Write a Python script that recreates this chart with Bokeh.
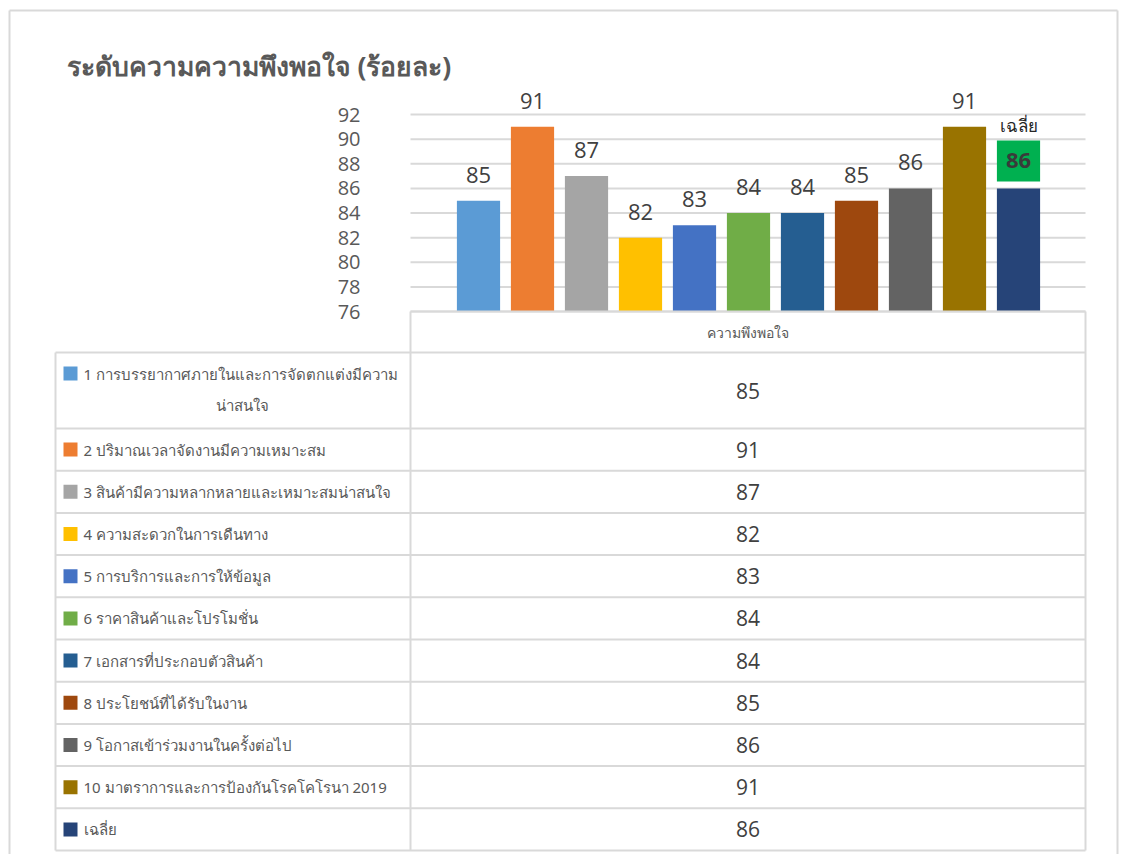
from bokeh.plotting import figure
from bokeh.models import Range1d, LinearAxis, FixedTicker, Grid
from bokeh.core.properties import value
from bokeh.embed import file_html
from bokeh.resources import INLINE

# ---------------- data ----------------
title_text = "ระดับความความพึงพอใจ (ร้อยละ)"
series_name = "ความพึงพอใจ"
avg_name = "เฉลี่ย"
categories = [
    "1 การบรรยากาศภายในและการจัดตกแต่งมีความน่าสนใจ",
    "2 ปริมาณเวลาจัดงานมีความเหมาะสม",
    "3 สินค้ามีความหลากหลายและเหมาะสมน่าสนใจ",
    "4 ความสะดวกในการเดืนทาง",
    "5 การบริการและการให้ข้อมูล",
    "6 ราคาสินค้าและโปรโมชั่น",
    "7 เอกสารที่ประกอบตัวสินค้า",
    "8 ประโยชน์ที่ได้รับในงาน",
    "9 โอกาสเข้าร่วมงานในครั้งต่อไป",
    "10 มาตราการและการป้องกันโรคโคโรนา 2019",
    "เฉลี่ย",
]
values = [85, 91, 87, 82, 83, 84, 84, 85, 86, 91, 86]
colors = ["#5B9BD5", "#ED7D31", "#A5A5A5", "#FFC000", "#4472C4", "#70AD47",
          "#255E91", "#9E480E", "#636363", "#997300", "#264478"]
y_ticks = [76, 78, 80, 82, 84, 86, 88, 90, 92]

# ---------------- geometry (styles) ----------------
W, H = 1120, 854
PX_X = 54.0          # pixels per category slot
PX_Y = 12.3125       # pixels per value unit
bar1_cx = 478.0      # px of first bar centre
base_px = 311.0      # px (from top) of the value axis minimum
plot_l_px, plot_r_px = 410.0, 1085.0

x_start = 1 - bar1_cx / PX_X
x_end = x_start + W / PX_X
y_end = y_ticks[0] + base_px / PX_Y
y_start = y_end - H / PX_Y
plot_l = x_start + plot_l_px / PX_X
plot_r = x_start + plot_r_px / PX_X

GRID = "#D9D9D9"
NUM_FONT_NAME = "Open Sans"
NUM_FONT = value(NUM_FONT_NAME)
THAI_FONT = value("Noto Sans")

p = figure(width=W, height=H, output_backend="svg", toolbar_location=None,
           x_range=Range1d(x_start, x_end), y_range=Range1d(y_start, y_end),
           x_axis_location=None, y_axis_location=None, min_border=0,
           outline_line_color=None, background_fill_color="white",
           border_fill_color="white")
for r in list(p.center):
    if isinstance(r, Grid):
        r.visible = False
p.extra_x_ranges = {"px": Range1d(0, W)}
p.extra_y_ranges = {"px": Range1d(H, 0)}
PX = dict(x_range_name="px", y_range_name="px")

# outer chart border (left, top, right)
p.segment(x0=[9, 9, 1117], y0=[10, 10, 10], x1=[9, 1117, 1117], y1=[H, 10, H],
          line_color=GRID, line_width=2, **PX)

# title
p.text(x=[66], y=[65], text=[title_text], text_font=THAI_FONT, text_font_size="26.5px",
       text_font_style="bold", text_color="#595959", text_baseline="middle",
       text_align="left", **PX)

# gridlines
p.segment(x0=plot_l, x1=plot_r, y0=y_ticks, y1=y_ticks, line_color=GRID, line_width=2)

# value axis
ax = LinearAxis(fixed_location=plot_l, ticker=FixedTicker(ticks=y_ticks),
                axis_line_color=None, major_tick_line_color=None,
                minor_tick_line_color=None, major_label_standoff=44,
                major_label_text_font=NUM_FONT_NAME, major_label_text_font_size="20px",
                major_label_text_color="#595959")
p.add_layout(ax, "left")

# bars
idx = list(range(1, len(values) + 1))
p.vbar(x=idx, top=values, bottom=y_ticks[0], width=0.8, fill_color=colors,
       line_color=None)

# data labels (all but average)
p.text(x=idx[:-1], y=values[:-1], text=[str(v) for v in values[:-1]],
       text_font=NUM_FONT, text_font_size="22px", text_color="#404040",
       text_align="center", text_baseline="bottom", y_offset=-18)

# average label: name + green box with bold value
p.text(x=[idx[-1]], y=[values[-1]], text=[avg_name], text_font=THAI_FONT,
       text_font_size="17px", text_color="#262626", text_align="center",
       text_baseline="middle", y_offset=-63)
p.rect(x=[idx[-1]], y=[values[-1] + 27.5 / PX_Y], width=0.8, height=41,
       height_units="screen", fill_color="#00B050", line_color=None)
p.text(x=[idx[-1]], y=[values[-1]], text=[str(values[-1])], text_font=NUM_FONT,
       text_font_size="22px", text_font_style="bold", text_color="#3A3A3A",
       text_align="center", text_baseline="middle", y_offset=-27.5)

# ---------------- data table ----------------
tbl_l, tbl_m, tbl_r = 55.0, 410.0, 1085.0
head_top = base_px
head_h = 41.0
row_h = [76.0] + [42.2] * (len(categories) - 1)
bounds = [head_top + head_h]
for h in row_h:
    bounds.append(bounds[-1] + h)
tbl_bot = bounds[-1]

# lines
hx0 = [tbl_m] + [tbl_l] * len(bounds)
hx1 = [tbl_r] * (len(bounds) + 1)
hy = [head_top] + bounds
p.segment(x0=hx0, x1=hx1, y0=hy, y1=hy, line_color=GRID, line_width=2, **PX)
p.segment(x0=[tbl_l, tbl_m, tbl_r], x1=[tbl_l, tbl_m, tbl_r],
          y0=[bounds[0], head_top, head_top], y1=[tbl_bot] * 3,
          line_color=GRID, line_width=2, **PX)

# header
p.text(x=[(tbl_m + tbl_r) / 2], y=[head_top + head_h / 2], text=[series_name],
       text_font=THAI_FONT, text_font_size="14px", text_color="#595959",
       text_align="center", text_baseline="middle", **PX)

row_c = [(bounds[i] + bounds[i + 1]) / 2 for i in range(len(categories))]
key_y = list(row_c)
wrap_at = len("1 การบรรยากาศภายในและการจัดตกแต่งมีความ")
first_line = categories[0][:wrap_at]
second_line = categories[0][wrap_at:]
key_y[0] = bounds[0] + 21
label_txt = [first_line] + categories[1:]

p.rect(x=[tbl_l + 15] * len(categories), y=key_y, width=14, height=14,
       fill_color=colors, line_color=None, **PX)
p.text(x=[tbl_l + 28] * len(categories), y=key_y, text=label_txt,
       text_font=THAI_FONT, text_font_size="15px", text_color="#595959",
       text_align="left", text_baseline="middle", **PX)
p.text(x=[(tbl_l + 28 + tbl_m - 10) / 2], y=[bounds[0] + 52], text=[second_line],
       text_font=THAI_FONT, text_font_size="15px", text_color="#595959",
       text_align="center", text_baseline="middle", **PX)

p.text(x=[(tbl_m + tbl_r) / 2] * len(values), y=row_c, text=[str(v) for v in values],
       text_font=NUM_FONT, text_font_size="21px", text_color="#404040",
       text_align="center", text_baseline="middle", **PX)

open("out.html", "w").write(file_html(p, INLINE))
